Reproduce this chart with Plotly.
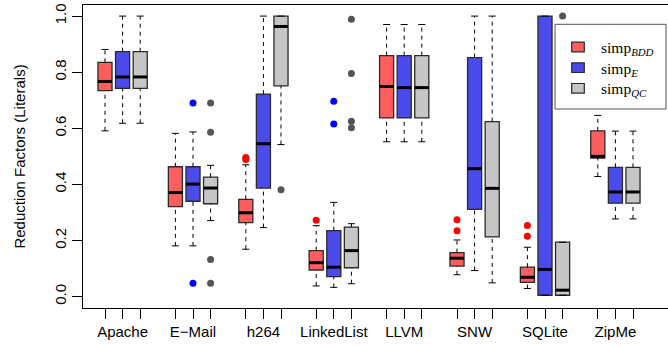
import plotly.graph_objects as go

# ---------------- data ----------------
categories = ["Apache", "E\u2212Mail", "h264", "LinkedList", "LLVM", "SNW", "SQLite", "ZipMe"]
series_names = ["simp<sub><i>BDD</i></sub>", "simp<sub><i>E</i></sub>", "simp<sub><i>QC</i></sub>"]

bdd_lower = [0.591, 0.181, 0.169, 0.038, 0.552, 0.078, 0.029, 0.428]
bdd_q1 = [0.734, 0.321, 0.264, 0.095, 0.637, 0.109, 0.051, 0.494]
bdd_med = [0.767, 0.371, 0.299, 0.121, 0.749, 0.137, 0.069, 0.500]
bdd_q3 = [0.835, 0.463, 0.347, 0.164, 0.859, 0.157, 0.105, 0.591]
bdd_upper = [0.881, 0.582, 0.470, 0.253, 0.970, 0.202, 0.176, 0.646]
bdd_outliers = [("h264", 0.496), ("h264", 0.489), ("LinkedList", 0.272),
                ("SNW", 0.274), ("SNW", 0.235), ("SQLite", 0.254), ("SQLite", 0.215)]

e_lower = [0.618, 0.181, 0.246, 0.033, 0.552, 0.093, 0.005, 0.277]
e_q1 = [0.742, 0.340, 0.387, 0.071, 0.637, 0.311, 0.005, 0.333]
e_med = [0.783, 0.401, 0.545, 0.105, 0.745, 0.456, 0.097, 0.373]
e_q3 = [0.873, 0.463, 0.722, 0.235, 0.859, 0.852, 1.000, 0.461]
e_upper = [1.000, 0.587, 1.000, 0.336, 0.970, 1.000, 1.000, 0.590]
e_outliers = [("E\u2212Mail", 0.690), ("E\u2212Mail", 0.048),
              ("LinkedList", 0.696), ("LinkedList", 0.615)]

qc_lower = [0.618, 0.271, 0.542, 0.046, 0.552, 0.049, 0.005, 0.277]
qc_q1 = [0.742, 0.331, 0.751, 0.103, 0.637, 0.213, 0.005, 0.333]
qc_med = [0.783, 0.387, 0.963, 0.164, 0.745, 0.386, 0.023, 0.373]
qc_q3 = [0.873, 0.426, 1.000, 0.248, 0.859, 0.624, 0.194, 0.461]
qc_upper = [1.000, 0.468, 1.000, 0.260, 0.970, 1.000, 0.194, 0.590]
qc_outliers = [("E\u2212Mail", 0.690), ("E\u2212Mail", 0.586), ("E\u2212Mail", 0.132),
               ("E\u2212Mail", 0.048), ("h264", 0.381), ("LinkedList", 0.989),
               ("LinkedList", 0.795), ("LinkedList", 0.625), ("LinkedList", 0.602),
               ("SQLite", 1.000)]

y_tick_vals = [0.0, 0.2, 0.4, 0.6, 0.8, 1.0]
y_tick_text = ["0.0", "0.2", "0.4", "0.6", "0.8", "1.0"]

# ---------------- styles ----------------
fills = ["#FF5E5E", "#4B4BEB", "#C6C6C6"]
point_colors = ["#FF0000", "#0000FF", "#555555"]
outline = "#2a2a2a"
BW = 0.8   # box width in position units
CAP = 0.2  # half cap width

series = [
    (bdd_lower, bdd_q1, bdd_med, bdd_q3, bdd_upper, bdd_outliers),
    (e_lower, e_q1, e_med, e_q3, e_upper, e_outliers),
    (qc_lower, qc_q1, qc_med, qc_q3, qc_upper, qc_outliers),
]


def pos(g, s):
    return 1 + 4 * g + s


fig = go.Figure()

for s, (lo, q1, med, q3, up, outs) in enumerate(series):
    xs = [pos(g, s) for g in range(len(categories))]
    # dashed whiskers
    wx, wy = [], []
    for x, a, b, c, d in zip(xs, lo, q1, q3, up):
        wx += [x, x, None, x, x, None]
        wy += [a, b, None, c, d, None]
    fig.add_trace(go.Scatter(x=wx, y=wy, mode="lines", showlegend=False, hoverinfo="skip",
                             line=dict(color="black", width=1, dash="4px,4px")))
    # boxes
    fig.add_trace(go.Box(x=xs, q1=q1, median=med, q3=q3, lowerfence=q1, upperfence=q3,
                         width=BW, fillcolor=fills[s], boxpoints=False, showlegend=False,
                         line=dict(color=outline, width=1.3), hoverinfo="skip"))
    # caps
    cx, cy = [], []
    for x, a, d in zip(xs, lo, up):
        cx += [x - CAP, x + CAP, None, x - CAP, x + CAP, None]
        cy += [a, a, None, d, d, None]
    fig.add_trace(go.Scatter(x=cx, y=cy, mode="lines", showlegend=False, hoverinfo="skip",
                             line=dict(color="black", width=1)))
    # medians
    mx, my = [], []
    for x, m in zip(xs, med):
        mx += [x - BW / 2, x + BW / 2, None]
        my += [m, m, None]
    fig.add_trace(go.Scatter(x=mx, y=my, mode="lines", showlegend=False, hoverinfo="skip",
                             line=dict(color="black", width=3)))
    # outliers
    ox = [pos(categories.index(c), s) for c, v in outs]
    oy = [v for c, v in outs]
    fig.add_trace(go.Scatter(x=ox, y=oy, mode="markers", showlegend=False, hoverinfo="skip",
                             marker=dict(color=point_colors[s], size=7, line=dict(width=0))))

# x ticks: labelled at the group centres, plain ticks at the side boxes
major_vals = [pos(g, 1) for g in range(len(categories))]
minor_vals = [pos(g, s) for g in range(len(categories)) for s in (0, 2)]

L, T, W, H = 83, 5, 668, 346
B = 38
PW, PH = W - L, H - T - B


def px(x):
    return (x - L) / PW


def py(y):
    return (H - B - y) / PH


# manual legend
shapes = [dict(type="rect", xref="paper", yref="paper", x0=px(555), x1=px(666),
               y0=py(109), y1=py(24.3), line=dict(color="#555555", width=1),
               fillcolor="white", layer="above")]
annotations = []
rows = [47, 67.7, 88.3]
for s in range(3):
    shapes.append(dict(type="rect", xref="paper", yref="paper", x0=px(571.7), x1=px(584.3),
                       y0=py(rows[s] + 4.8), y1=py(rows[s] - 4.8),
                       line=dict(color=outline, width=1.2), fillcolor=fills[s], layer="above"))
    annotations.append(dict(xref="paper", yref="paper", x=px(599), y=py(rows[s] + 1.5),
                            xanchor="left", yanchor="middle", showarrow=False,
                            text=series_names[s],
                            font=dict(family="Liberation Serif", size=15.5, color="black")))

fig.update_layout(
    width=W, height=H,
    margin=dict(l=L, r=0, t=T, b=B, autoexpand=False),
    paper_bgcolor="white", plot_bgcolor="white",
    font=dict(family="Liberation Sans", size=15, color="black"),
    boxmode="overlay",
    shapes=shapes, annotations=annotations,
    showlegend=False,
)
fig.update_xaxes(range=[-0.25, -0.25 + PW / 17.6], tickvals=major_vals, ticktext=categories,
                 ticks="outside", ticklen=10, tickcolor="black", tickwidth=1,
                 minor=dict(tickvals=minor_vals, ticks="outside", ticklen=10,
                            tickcolor="black", tickwidth=1, showgrid=False),
                 showline=True, linecolor="black", linewidth=1, mirror=True,
                 showgrid=False, zeroline=False, tickfont=dict(size=15), automargin=False)
fig.update_yaxes(range=[-0.0405, 1.0395], tickvals=y_tick_vals, ticktext=y_tick_text,
                 tickangle=-90, ticks="outside", ticklen=10, tickcolor="black", tickwidth=1,
                 showline=True, linecolor="black", linewidth=1, mirror=False,
                 showgrid=False, zeroline=False, tickfont=dict(size=15),
                 ticklabelstandoff=0, automargin=False,
                 title=dict(text="Reduction Factors (Literals)", standoff=22,
                            font=dict(size=15)))

fig.write_html("out.html", config={"displayModeBar": False},
               post_script="document.body.style.margin='0px';")
